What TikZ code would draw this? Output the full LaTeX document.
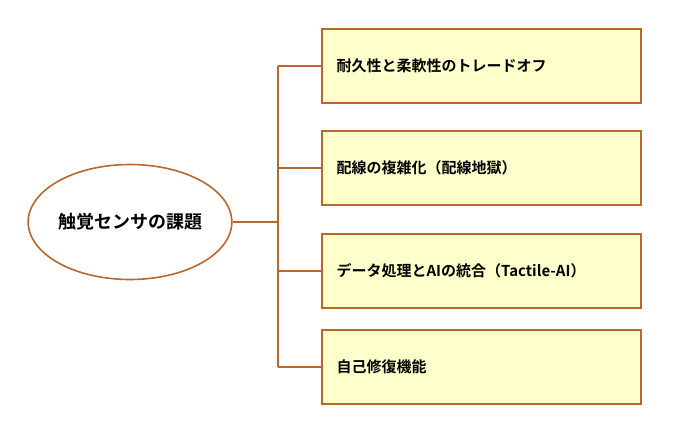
\documentclass[tikz,border=0pt]{standalone}
\usepackage{fontspec}
\setmainfont{Noto Sans CJK JP}[BoldFont={* Bold}]
\usetikzlibrary{shapes.geometric}
\definecolor{edgebrown}{HTML}{B8682E}
\definecolor{boxfill}{HTML}{FFFFCC}
\tikzset{
  topic/.style={draw=edgebrown,line width=1.6pt,fill=boxfill,minimum width=319pt,minimum height=74pt,text width=290pt,align=left,inner xsep=14pt,font=\bfseries\fontsize{15pt}{18pt}\selectfont},
  link/.style={draw=edgebrown,line width=1.6pt}
}
\begin{document}
\begin{tikzpicture}[x=1pt,y=-1pt]
  \useasboundingbox (0,0) rectangle (679,437);
  \node[draw=edgebrown,line width=1.6pt,fill=white,ellipse,minimum width=196pt,minimum height=115pt,inner sep=0pt,font=\bfseries\fontsize{18pt}{21pt}\selectfont] (main) at (130,222) {触覚センサの課題};
  \node[topic] (t1) at (481.5,66) {耐久性と柔軟性のトレードオフ};
  \node[topic] (t2) at (481.5,168) {配線の複雑化（配線地獄）};
  \node[topic] (t3) at (481.5,271) {データ処理とAIの統合（Tactile-AI）};
  \node[topic] (t4) at (481.5,367) {自己修復機能};

  \coordinate (j0) at (278,222);
  \draw[link] (main) -- (j0);
  \foreach \t in {t1,t2,t3,t4}
    \draw[link] (\t.west) -- (\t.west -| j0);
  \draw[link] (t1.west -| j0) -- (t4.west -| j0);
\end{tikzpicture}
\end{document}
